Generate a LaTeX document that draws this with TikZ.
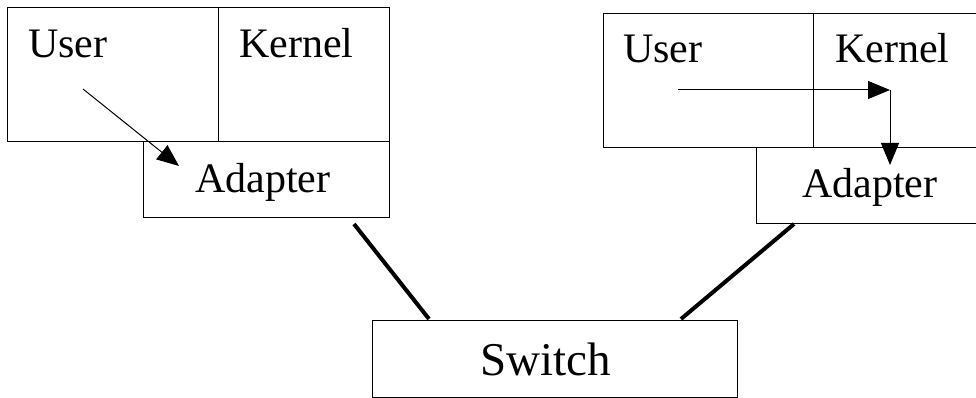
\documentclass[tikz,border=0pt]{standalone}
\usepackage{fontspec}
\setmainfont{Liberation Serif}
\usetikzlibrary{arrows.meta}
\begin{document}
\begin{tikzpicture}[x=1pt,y=-1pt,
  boxnode/.style={draw,line width=1pt,rectangle,inner sep=0pt,anchor=north west},
  lbl/.style={font=\fontsize{42}{48}\selectfont,inner sep=0pt,anchor=base west},
  biglbl/.style={font=\fontsize{47}{54}\selectfont,inner sep=0pt,anchor=base west},
  thinarrow/.style={line width=1pt,-{Triangle[length=22pt,width=18pt]}},
  cable/.style={line width=4pt}]
\useasboundingbox (0,0) rectangle (976,398);
% left host
\node[boxnode,minimum width=211pt,minimum height=134pt] (luser) at (7,7) {};
\node[boxnode,minimum width=171pt,minimum height=134pt] (lkern) at (218,7) {};
\node[boxnode,minimum width=246pt,minimum height=76pt] (ladap) at (143,141) {};
\node[lbl] (luserT) at (28,58) {User};
\node[lbl] (lkernT) at (239,58) {Kernel};
\node[lbl] (ladapT) at (195,193) {Adapter};
% right host
\node[boxnode,minimum width=210pt,minimum height=134pt] (ruser) at (603,13) {};
\node[boxnode,minimum width=170pt,minimum height=134pt] (rkern) at (813,13) {};
\node[boxnode,minimum width=226pt,minimum height=76pt] (radap) at (756,147) {};
\node[lbl] (ruserT) at (623,63) {User};
\node[lbl] (rkernT) at (835,63) {Kernel};
\node[lbl] (radapT) at (802,197) {Adapter};
% switch
\node[boxnode,minimum width=365pt,minimum height=77pt] (switch) at (372,320) {};
\node[biglbl] (switchT) at (480,375) {Switch};
% arrows
\coordinate (la0) at (83,89);
\coordinate (la1) at (179,166);
\draw[thinarrow] (la0) -- (la1);
\coordinate (ra0) at (678,90);
\coordinate (ra1) at (890,90);
\coordinate (ra2) at (890,165);
\draw[thinarrow] (ra0) -- (ra1);
\draw[thinarrow] (ra1) -- (ra2);
% cables
\coordinate (lc0) at (354,224);
\coordinate (lc1) at (429,319);
\coordinate (rc0) at (794,224);
\coordinate (rc1) at (681,319);
\draw[cable] (lc0) -- (lc1);
\draw[cable] (rc0) -- (rc1);
\end{tikzpicture}
\end{document}
